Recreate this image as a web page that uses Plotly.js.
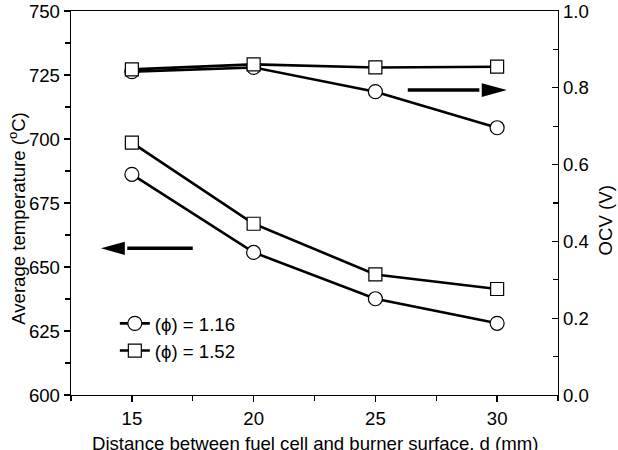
<!DOCTYPE html>
<html>
<head>
<meta charset="utf-8">
<script src="https://cdn.plot.ly/plotly-3.0.1.min.js"></script>
<style>
  html, body { margin: 0; padding: 0; background: #fff; }
  #chart { width: 618px; height: 450px; }
</style>
</head>
<body>
<div id="chart"></div>
<script>
// Distance between fuel cell and burner surface, d (mm)
const distance = [15, 20, 25, 30];

// Average temperature (°C), left axis
const tempPhi116 = [686.2, 655.7, 637.6, 628.0];
const tempPhi152 = [698.6, 666.9, 647.1, 641.4];

// Open-circuit voltage (V), right axis
const ocvPhi116 = [0.842, 0.853, 0.790, 0.696];
const ocvPhi152 = [0.848, 0.861, 0.853, 0.855];

const seriesNames = ['(\u03D5) = 1.16', '(\u03D5) = 1.52'];

const FONT = 'Liberation Sans, Arial, sans-serif';
const FS = 18.6;
const lineStyle = { color: '#000', width: 2.6 };
const circle = { symbol: 'circle', size: 14, color: '#fff', line: { color: '#000', width: 1.2 } };
const square = { symbol: 'square', size: 13, color: '#fff', line: { color: '#000', width: 1.2 } };

const traces = [
  { x: distance, y: tempPhi116, name: seriesNames[0], mode: 'lines+markers',
    line: lineStyle, marker: circle, yaxis: 'y', legendrank: 1 },
  { x: distance, y: tempPhi152, name: seriesNames[1], mode: 'lines+markers',
    line: lineStyle, marker: square, yaxis: 'y', legendrank: 2 },
  { x: distance, y: ocvPhi116, name: seriesNames[0], mode: 'lines+markers',
    line: lineStyle, marker: circle, yaxis: 'y2', showlegend: false },
  { x: distance, y: ocvPhi152, name: seriesNames[1], mode: 'lines+markers',
    line: lineStyle, marker: square, yaxis: 'y2', showlegend: false }
];

// Direction arrows: which axis each group of curves belongs to
const arrowLeft = { y: 657.3, tail: 17.5, base: 14.71, tip: 13.73, half: 2.6 };
const arrowRight = { y: 0.794, tail: 26.33, base: 29.37, tip: 30.40, half: 0.018 };

const shapes = [
  { type: 'line', xref: 'x', yref: 'y', x0: arrowLeft.tail, x1: arrowLeft.base + 0.1,
    y0: arrowLeft.y, y1: arrowLeft.y, line: { color: '#000', width: 3.5 } },
  { type: 'path', xref: 'x', yref: 'y', fillcolor: '#000', line: { width: 0 },
    path: `M${arrowLeft.tip},${arrowLeft.y} L${arrowLeft.base},${arrowLeft.y + arrowLeft.half} L${arrowLeft.base},${arrowLeft.y - arrowLeft.half} Z` },
  { type: 'line', xref: 'x', yref: 'y2', x0: arrowRight.tail, x1: arrowRight.base - 0.1,
    y0: arrowRight.y, y1: arrowRight.y, line: { color: '#000', width: 3.5 } },
  { type: 'path', xref: 'x', yref: 'y2', fillcolor: '#000', line: { width: 0 },
    path: `M${arrowRight.tip},${arrowRight.y} L${arrowRight.base},${arrowRight.y + arrowRight.half} L${arrowRight.base},${arrowRight.y - arrowRight.half} Z` }
];

const axisCommon = {
  showgrid: false, zeroline: false, showline: true,
  linecolor: '#000', linewidth: 1.3, tickcolor: '#000', tickwidth: 1.3,
  tickfont: { family: FONT, size: FS, color: '#000' }
};

const layout = {
  width: 618, height: 450,
  margin: { l: 71, r: 60, t: 11, b: 55 },
  paper_bgcolor: '#fff', plot_bgcolor: '#fff',
  font: { family: FONT, size: FS, color: '#000' },
  showlegend: true,
  legend: {
    x: 0.090, y: 0.235, xanchor: 'left', yanchor: 'top',
    bgcolor: 'rgba(0,0,0,0)', font: { family: FONT, size: FS, color: '#000' },
    tracegroupgap: 0
  },
  xaxis: Object.assign({}, axisCommon, {
    range: [12.5, 32.5], dtick: 5, tick0: 0, ticks: 'outside', ticklen: 6,
    mirror: true,
    minor: { dtick: 2.5, tick0: 0, ticks: 'outside', ticklen: 5, tickcolor: '#000', tickwidth: 1.3 }
  }),
  yaxis: Object.assign({}, axisCommon, {
    range: [600, 750], dtick: 25, tick0: 600, ticks: 'outside', ticklen: 6,
    minor: { dtick: 12.5, tick0: 600, ticks: 'outside', ticklen: 5, tickcolor: '#000', tickwidth: 1.3 }
  }),
  yaxis2: Object.assign({}, axisCommon, {
    overlaying: 'y', side: 'right', range: [0, 1], dtick: 0.2, tick0: 0,
    tickformat: '.1f', ticks: 'inside', ticklen: 6,
    minor: { dtick: 0.1, tick0: 0, ticks: 'inside', ticklen: 5, tickcolor: '#000', tickwidth: 1.3 }
  }),
  shapes: shapes,
  annotations: [
    { text: 'Distance between fuel cell and burner surface, d (mm)', xref: 'paper', yref: 'paper',
      x: 0.5, y: -0.126, xanchor: 'center', yanchor: 'middle', showarrow: false,
      font: { family: FONT, size: FS, color: '#000' } },
    { text: 'Average temperature (<sup>o</sup>C)', xref: 'paper', yref: 'paper',
      x: -0.11, y: 0.46, xanchor: 'center', yanchor: 'middle', textangle: -90, showarrow: false,
      font: { family: FONT, size: FS, color: '#000' } },
    { text: 'OCV (V)', xref: 'paper', yref: 'paper',
      x: 1.0975, y: 0.456, xanchor: 'center', yanchor: 'middle', textangle: -90, showarrow: false,
      font: { family: FONT, size: FS, color: '#000' } }
  ]
};

Plotly.newPlot('chart', traces, layout, { staticPlot: true, displayModeBar: false });
</script>
</body>
</html>
